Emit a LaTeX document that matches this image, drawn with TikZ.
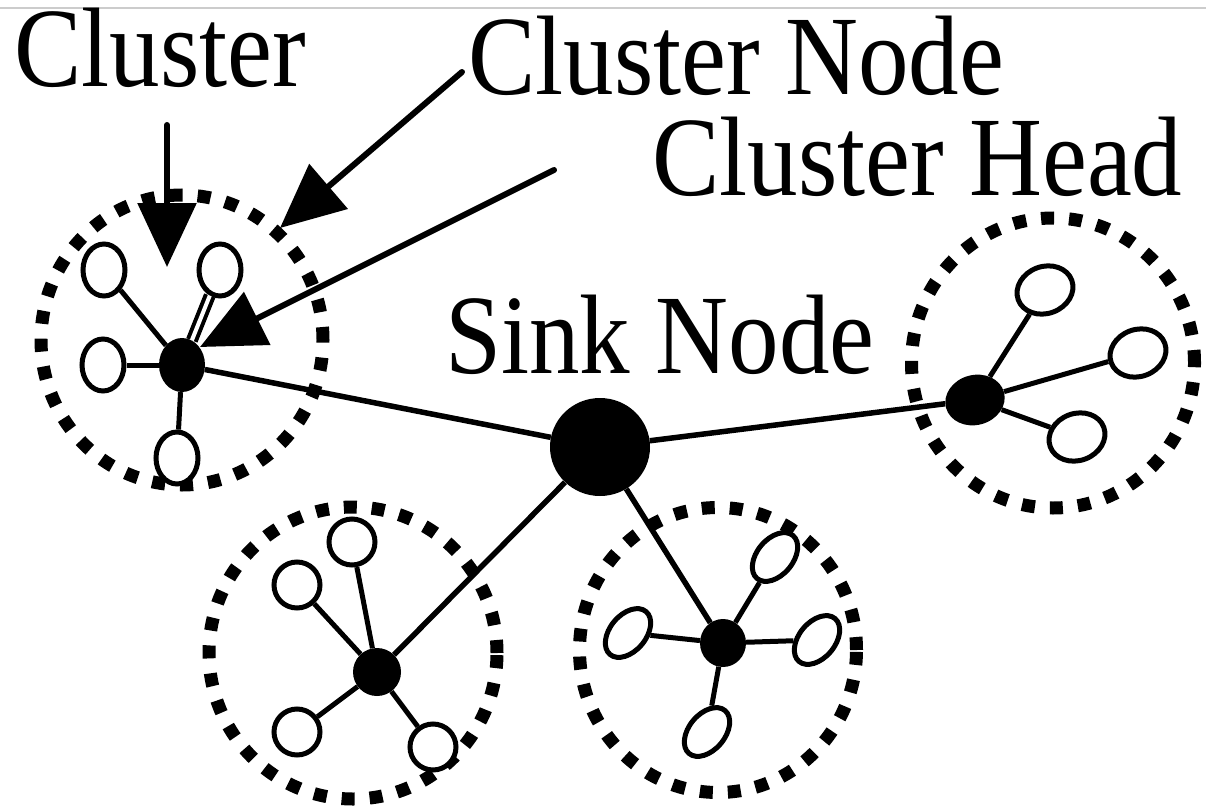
\documentclass[tikz,border=0pt]{standalone}
\usepackage{fontspec}
\setmainfont{Liberation Serif}
\usetikzlibrary{shapes.geometric,arrows.meta}
\begin{document}
\begin{tikzpicture}[x=1pt,y=-1pt,
  lbl/.style={anchor=base west, inner sep=0pt, font=\fontsize{101}{101}\selectfont},
  member/.style={ellipse, draw, line width=5pt, fill=white, inner sep=0pt},
  headnode/.style={ellipse, fill=black, inner sep=0pt},
  link/.style={line width=5pt},
  mainlink/.style={line width=5.5pt},
  ring/.style={ellipse, draw, line width=13pt, dash pattern=on 13pt off 15pt, inner sep=0pt},
  pointer/.style={line width=6pt, line cap=round, -{Triangle[length=64pt,width=58pt]}}]
\fill[white] (0,0) rectangle (1206,805);
\useasboundingbox (0,0) rectangle (1206,805);
\draw[gray!40, line width=2pt] (0,8) -- (1206,8);

% labels
\node[lbl] (tcluster) at (14,87) {\scalebox{1}[1.12]{Cluster}};
\node[lbl] (tnode) at (468,95) {\scalebox{1}[1.12]{Cluster Node}};
\node[lbl] (thead) at (652,195) {\scalebox{1}[1.12]{Cluster Head}};
\node[lbl] (tsink) at (445,373) {\scalebox{1}[1.12]{Sink Node}};

% cluster rings
\node[ring, minimum width=282pt, minimum height=290pt] (ringA) at (182,340) {};
\node[ring, minimum width=283pt, minimum height=290pt] (ringB) at (1053,363) {};
\node[ring, minimum width=288pt, minimum height=292pt] (ringC) at (353,653) {};
\node[ring, minimum width=277pt, minimum height=285pt] (ringD) at (718,650) {};

% sink
\node[headnode, minimum width=100pt, minimum height=98pt] (sink) at (600,447) {};

% cluster A (top left)
\node[headnode, minimum width=46pt, minimum height=54pt] (headA) at (182,365) {};
\node[member, minimum width=42pt, minimum height=52pt] (a1) at (104,270) {};
\node[member, minimum width=42pt, minimum height=52pt] (a2) at (220,270) {};
\node[member, minimum width=42pt, minimum height=52pt] (a3) at (103,365) {};
\node[member, minimum width=42pt, minimum height=52pt] (a4) at (177,458) {};

% cluster B (right)
\node[headnode, minimum width=60pt, minimum height=50pt, rotate=15] (headB) at (975,400) {};
\node[member, minimum width=57pt, minimum height=47pt, rotate=20] (b1) at (1045,290) {};
\node[member, minimum width=57pt, minimum height=47pt, rotate=20] (b2) at (1138,353) {};
\node[member, minimum width=57pt, minimum height=47pt, rotate=20] (b3) at (1077,437) {};

% cluster C (bottom left)
\node[headnode, minimum width=48pt, minimum height=48pt] (headC) at (377,672) {};
\node[member, minimum width=46pt, minimum height=46pt] (c1) at (352,542) {};
\node[member, minimum width=46pt, minimum height=46pt] (c2) at (297,585) {};
\node[member, minimum width=46pt, minimum height=46pt] (c3) at (297,732) {};
\node[member, minimum width=46pt, minimum height=46pt] (c4) at (433,747) {};

% cluster D (bottom right)
\node[headnode, minimum width=46pt, minimum height=48pt] (headD) at (723,643) {};
\node[member, minimum width=56pt, minimum height=36pt, rotate=50] (d1) at (775,557) {};
\node[member, minimum width=56pt, minimum height=36pt, rotate=50] (d2) at (628,633) {};
\node[member, minimum width=56pt, minimum height=36pt, rotate=50] (d3) at (817,640) {};
\node[member, minimum width=56pt, minimum height=36pt, rotate=50] (d4) at (707,732) {};

% links to sink
\draw[mainlink] (headA) -- (sink);
\draw[mainlink] (headB) -- (sink);
\draw[mainlink] (headC) -- (sink);
\draw[mainlink] (headD) -- (sink);

% intra-cluster links
\draw[link] (headA) -- (a1);
\draw[line width=4pt, double, double distance=4pt] (headA) -- (a2);
\draw[link] (headA) -- (a3);
\draw[link] (headA) -- (a4);
\draw[link] (headB) -- (b1);
\draw[link] (headB) -- (b2);
\draw[link] (headB) -- (b3);
\draw[link] (headC) -- (c1);
\draw[link] (headC) -- (c2);
\draw[link] (headC) -- (c3);
\draw[link] (headC) -- (c4);
\draw[link] (headD) -- (d1);
\draw[link] (headD) -- (d2);
\draw[link] (headD) -- (d3);
\draw[link] (headD) -- (d4);

% pointers
\coordinate (p1s) at (167,125);
\coordinate (p1e) at (167,267);
\coordinate (p2s) at (462,72);
\coordinate (p2e) at (280,228);
\coordinate (p3s) at (554,170);
\coordinate (p3e) at (200,347);
\draw[pointer] (p1s) -- (p1e);
\draw[pointer] (p2s) -- (p2e);
\draw[pointer] (p3s) -- (p3e);
\end{tikzpicture}
\end{document}
